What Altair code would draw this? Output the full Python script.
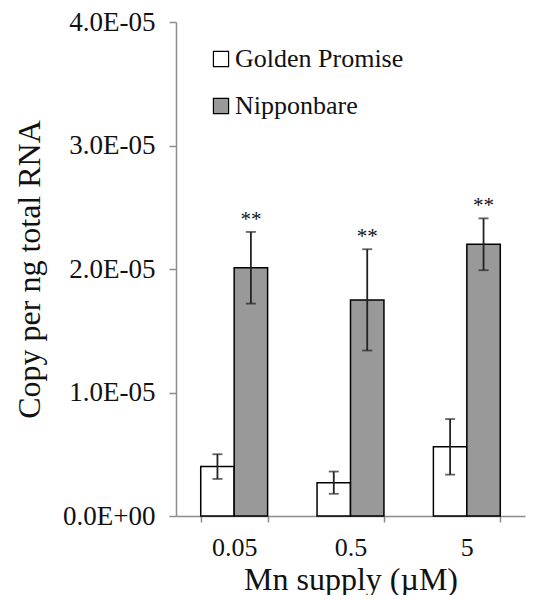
import altair as alt
import pandas as pd

categories = ["0.05", "0.5", "5"]
cultivars = ["Golden Promise", "Nipponbare"]
gp_mean = [4.0e-6, 2.7e-6, 5.6e-6]
gp_err = [1.0e-6, 0.9e-6, 2.25e-6]
nb_mean = [2.01e-5, 1.75e-5, 2.2e-5]
nb_err = [0.29e-5, 0.41e-5, 0.21e-5]
nb_sig = ["**", "**", "**"]

rows = []
for i, c in enumerate(categories):
    rows.append({"mn": c, "cultivar": cultivars[0], "mean": gp_mean[i], "err": gp_err[i], "sig": ""})
    rows.append({"mn": c, "cultivar": cultivars[1], "mean": nb_mean[i], "err": nb_err[i], "sig": nb_sig[i]})
df = pd.DataFrame(rows)
df["lo"] = df["mean"] - df["err"]
df["hi"] = df["mean"] + df["err"]

FONT = "Liberation Serif"

x = alt.X("mn:N", sort=categories, title="Mn supply (\u00b5M)",
          scale=alt.Scale(paddingInner=0.425, paddingOuter=0.2125),
          axis=alt.Axis(labelAngle=0, tickBand="extent", tickSize=6, labelPadding=12,
                        titlePadding=4))
xo = alt.XOffset("cultivar:N", sort=cultivars)

base = alt.Chart(df)

bars = base.mark_bar(stroke="black", strokeWidth=1.5).encode(
    x=x,
    xOffset=xo,
    y=alt.Y("mean:Q", title="Copy per ng total RNA",
            scale=alt.Scale(domain=[0, 4e-5]),
            axis=alt.Axis(values=[0, 1e-5, 2e-5, 3e-5, 4e-5], tickSize=7, labelPadding=14,
                          titlePadding=16, grid=False, labelFontSize=27,
                          labelExpr="datum.value == 0 ? '0.0E+00' : format(datum.value*1e5, '.1f') + 'E-05'")),
    fill=alt.Fill("cultivar:N", sort=cultivars,
                  scale=alt.Scale(domain=cultivars, range=["white", "#999999"]),
                  legend=alt.Legend(title=None, orient="none", legendX=32, legendY=24,
                                    symbolType="square", symbolSize=230,
                                    symbolStrokeColor="black", symbolStrokeWidth=1.2,
                                    labelFont=FONT, labelFontSize=26, labelColor="#111",
                                    labelLimit=0, rowPadding=21, labelOffset=1)),
)

rules = base.mark_rule(color="#222", strokeWidth=1.8).encode(
    x=x, xOffset=xo, y="lo:Q", y2="hi:Q")

caps_hi = base.mark_tick(color="#222", size=10, thickness=1.8).encode(
    x=x, xOffset=xo, y="hi:Q")
caps_lo = base.mark_tick(color="#222", size=10, thickness=1.8).encode(
    x=x, xOffset=xo, y="lo:Q")

stars = base.mark_text(font=FONT, fontSize=21, dy=-12, color="#111", baseline="middle").encode(
    x=x, xOffset=xo, y="hi:Q", text="sig:N")

chart = alt.layer(bars, rules, caps_hi, caps_lo, stars).properties(
    width=349, height=494,
    padding={"left": 5, "top": 0, "right": 5, "bottom": 0},
).configure_view(stroke=None).configure_axis(
    labelFont=FONT, titleFont=FONT, labelFontSize=26, titleFontSize=32,
    titleFontWeight="normal", labelColor="#111", titleColor="#111",
    domainColor="#8c8c8c", tickColor="#8c8c8c", domainWidth=1.5, tickWidth=1.5,
)

chart.save("out.html", embed_options={"renderer": "svg", "actions": False})
